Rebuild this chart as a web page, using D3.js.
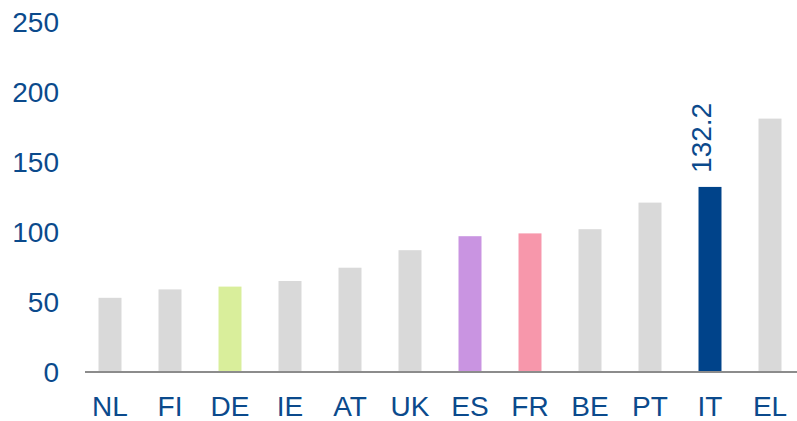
<!DOCTYPE html>
<html>
<head>
<meta charset="utf-8">
<script src="https://cdn.jsdelivr.net/npm/d3@7"></script>
<style>
  body { margin: 0; background: #fff; }
  text { font-family: "Liberation Sans", Arial, sans-serif; fill: #0b4a8c; }
</style>
</head>
<body>
<svg id="chart"></svg>
<script>
// chart data
const countries = ["NL", "FI", "DE", "IE", "AT", "UK", "ES", "FR", "BE", "PT", "IT", "EL"];
const values = [53, 59, 61, 65, 74.5, 87, 97, 99, 102, 121, 132.2, 181];
const barColors = ["#d9d9d9", "#d9d9d9", "#d9ee9b", "#d9d9d9", "#d9d9d9", "#d9d9d9",
                   "#c994e1", "#f797ab", "#d9d9d9", "#d9d9d9", "#00438a", "#d9d9d9"];
const yTicks = [0, 50, 100, 150, 200, 250];
const labelled = "IT";

const width = 797, height = 421;

const svg = d3.select("#chart").attr("width", width).attr("height", height);

const x = d3.scaleBand()
    .domain(countries)
    .range([80, 800])
    .paddingInner(0.617)
    .paddingOuter(0.3085);

const y = d3.scaleLinear()
    .domain([0, 250])
    .range([372, 22]);

// bars
svg.selectAll(".bar")
    .data(countries)
    .enter().append("rect")
    .attr("class", "bar")
    .attr("x", d => x(d))
    .attr("width", x.bandwidth())
    .attr("y", (d, i) => y(values[i]))
    .attr("height", (d, i) => y(0) - y(values[i]))
    .attr("fill", (d, i) => barColors[i]);

// baseline
svg.append("line")
    .attr("x1", 85).attr("x2", 797)
    .attr("y1", y(0)).attr("y2", y(0))
    .attr("stroke", "#8c8c8c")
    .attr("stroke-width", 2);

// y tick labels
svg.selectAll(".ytick")
    .data(yTicks)
    .enter().append("text")
    .attr("class", "ytick")
    .attr("x", 59)
    .attr("y", d => y(d))
    .attr("dy", "0.35em")
    .attr("text-anchor", "end")
    .style("font-size", "28px")
    .text(d => d);

// x labels
svg.selectAll(".xlab")
    .data(countries)
    .enter().append("text")
    .attr("class", "xlab")
    .attr("x", d => x(d) + x.bandwidth() / 2)
    .attr("y", 416)
    .attr("text-anchor", "middle")
    .style("font-size", "28px")
    .text(d => d);

// value label for IT
const li = countries.indexOf(labelled);
svg.append("text")
    .attr("transform", `translate(${x(labelled) + x.bandwidth() / 2 - 9},${y(values[li]) - 14}) rotate(-90)`)
    .attr("dy", "0.35em")
    .style("font-size", "28px")
    .text(values[li].toFixed(1));
</script>
</body>
</html>
